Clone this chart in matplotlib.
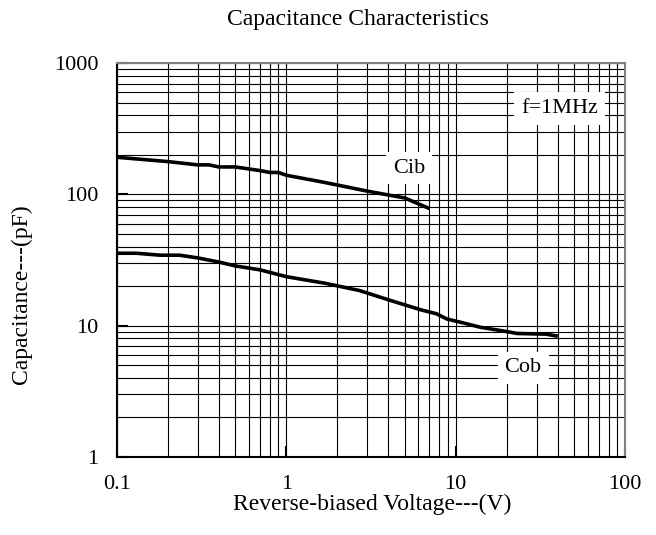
import numpy as np
import matplotlib.pyplot as plt

plt.rcParams['font.family'] = ['Liberation Serif', 'DejaVu Serif']

# reverse-biased voltage (V) and capacitance (pF)
cib_v = [0.1, 0.2, 0.3, 0.35, 0.4, 0.5, 0.7, 0.8, 0.9, 1.0, 1.6, 2.0, 3.0, 5.0, 7.0]
cib_c = [192, 178, 168, 168, 162, 162, 152, 147, 147, 140, 125, 118, 106, 94, 78]

cob_v = [0.1, 0.13, 0.18, 0.235, 0.3, 0.4, 0.5, 0.7, 1.0, 1.7, 2.7, 3.9, 4.5, 6.2,
         7.7, 8.9, 11, 14, 20, 23, 34, 40]
cob_c = [35.6, 35.6, 34.4, 34.4, 32.8, 30.5, 28.5, 26.6, 23.6, 21.0, 18.5, 15.9, 15.0,
         13.2, 12.3, 11.2, 10.5, 9.7, 9.0, 8.7, 8.6, 8.3]

xticks = [0.1, 1, 10, 100]
xticklabels = ['0.1', '1', '10', '100']
yticks = [1, 10, 100, 1000]
yticklabels = ['1', '10', '100', '1000']

fig = plt.figure(figsize=(6.56, 5.35), dpi=100)
ax = fig.add_axes([0.178, 0.1464, 0.775, 0.7353])

ax.plot(cib_v, cib_c, color='black', lw=2.6, solid_capstyle='butt', zorder=3)
ax.plot(cob_v, cob_c, color='black', lw=2.6, solid_capstyle='butt', zorder=3)

ax.set_xscale('log')
ax.set_yscale('log')
ax.set_xlim(0.1, 100)
ax.set_ylim(1, 1000)

ax.set_xticks(xticks)
ax.set_xticklabels(xticklabels)
ax.set_yticks(yticks)
ax.set_yticklabels(yticklabels)
ax.tick_params(which='major', direction='in', length=8, width=1.5, labelsize=16, pad=13)
ax.tick_params(which='minor', length=0)

ax.grid(which='both', color='black', lw=0.8)
ax.set_axisbelow(True)
ax.spines['left'].set_color('black')
ax.spines['bottom'].set_color('black')
ax.spines['top'].set_color('#808080')
ax.spines['right'].set_color('#808080')
for s in ax.spines.values():
    s.set_linewidth(1.5)

box = dict(facecolor='white', edgecolor='none', pad=5)
ax.text(5.3, 159, 'Cib', fontsize=16, ha='center', va='center', bbox=box, zorder=4)
ax.text(41, 450, 'f=1MHz', fontsize=16, ha='center', va='center', bbox=box, zorder=4)
ax.text(25, 4.75, 'Cob', fontsize=16, ha='center', va='center', bbox=box, zorder=4)

fig.text(0.545, 0.963, 'Capacitance Characteristics', fontsize=17, ha='center', va='center')
fig.text(0.567, 0.058, 'Reverse-biased Voltage---(V)', fontsize=17, ha='center', va='center')
fig.text(0.032, 0.45, 'Capacitance---(pF)', fontsize=17, ha='center', va='center',
         rotation=90)

fig.savefig('out.png', dpi=100)
